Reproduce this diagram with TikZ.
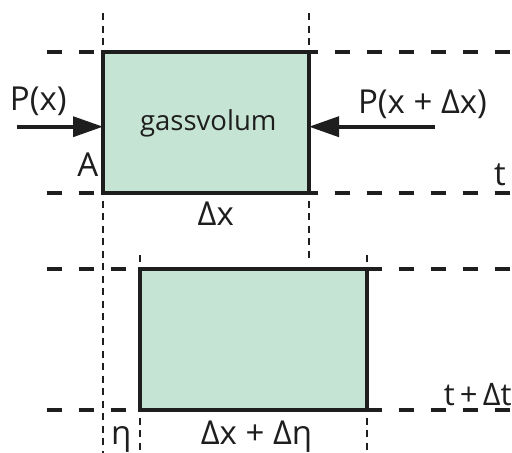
\documentclass[tikz,border=0pt]{standalone}
\usepackage{fontspec}
\setmainfont{Open Sans}
\usetikzlibrary{arrows.meta}
\definecolor{gasfill}{RGB}{198,228,211}
\definecolor{ink}{RGB}{30,30,30}
\tikzset{
  lbl/.style={inner sep=0pt, outer sep=0pt, anchor=base, text=ink, font=\fontsize{33}{33}\selectfont},
  gasbox/.style={draw=ink, fill=gasfill, line width=3.2pt, inner sep=0pt, outer sep=0pt},
  force/.style={draw=ink, line width=3.6pt, -{Triangle[length=30pt,width=20pt]}},
  level/.style={draw=ink, line width=3.2pt, dash pattern=on 15pt off 17pt},
  guide/.style={draw=ink, line width=1.3pt, dash pattern=on 7pt off 5.5pt}
}
\begin{document}
\begin{tikzpicture}[x=1pt,y=-1pt]
\useasboundingbox (0,0) rectangle (512,453);
% level lines
\coordinate (l1a) at (46.5,52);  \coordinate (l1b) at (512,52);
\coordinate (l2a) at (46.5,193); \coordinate (l2b) at (512,193);
\coordinate (l3a) at (46.5,269); \coordinate (l3b) at (512,269);
\coordinate (l4a) at (46.5,410); \coordinate (l4b) at (512,410);
\draw[level] (l1a) -- (l1b);
\draw[level] (l2a) -- (l2b);
\draw[level] (l3a) -- (l3b);
\draw[level] (l4a) -- (l4b);
% guide lines
\coordinate (g1a) at (103,13);  \coordinate (g1b) at (103,453);
\coordinate (g2a) at (309,13);  \coordinate (g2b) at (309,258);
\coordinate (g3a) at (140,255); \coordinate (g3b) at (140,453);
\coordinate (g4a) at (367,255); \coordinate (g4b) at (367,453);
\draw[guide] (g1a) -- (g1b);
\draw[guide] (g2a) -- (g2b);
\draw[guide] (g3a) -- (g3b);
\draw[guide] (g4a) -- (g4b);
% gas volumes
\node[gasbox, minimum width=206pt, minimum height=141pt] (r1) at (206,122.5) {};
\node[gasbox, minimum width=227pt, minimum height=141pt] (r2) at (253.5,339.5) {};
% forces
\coordinate (fl) at (16.7,126.7);
\coordinate (fr) at (435,126.7);
\draw[force] (fl) -- (fl -| r1.west);
\draw[force] (fr) -- (fr -| r1.east);
% labels
\node[lbl, font=\fontsize{27.5}{27.5}\selectfont] (gas) at (208.3,130) {gassvolum};
\node[lbl] (px) at (38.3,110.7) {P(x)};
\node[lbl] (pxd) at (422.5,113.3) {P(x + Δx)};
\node[lbl] (a) at (87.8,176.7) {A};
\node[lbl] (dx) at (215.8,225.7) {Δx};
\node[lbl] (t) at (500,185) {t};
\node[lbl] (eta) at (121.3,444.5) {η};
\node[lbl] (dxe) at (256.5,444.5) {Δx + Δη};
\node[lbl, anchor=base east, font=\fontsize{31}{31}\selectfont] (tdt) at (511.5,405) {t\,+\,Δt};
\end{tikzpicture}
\end{document}
